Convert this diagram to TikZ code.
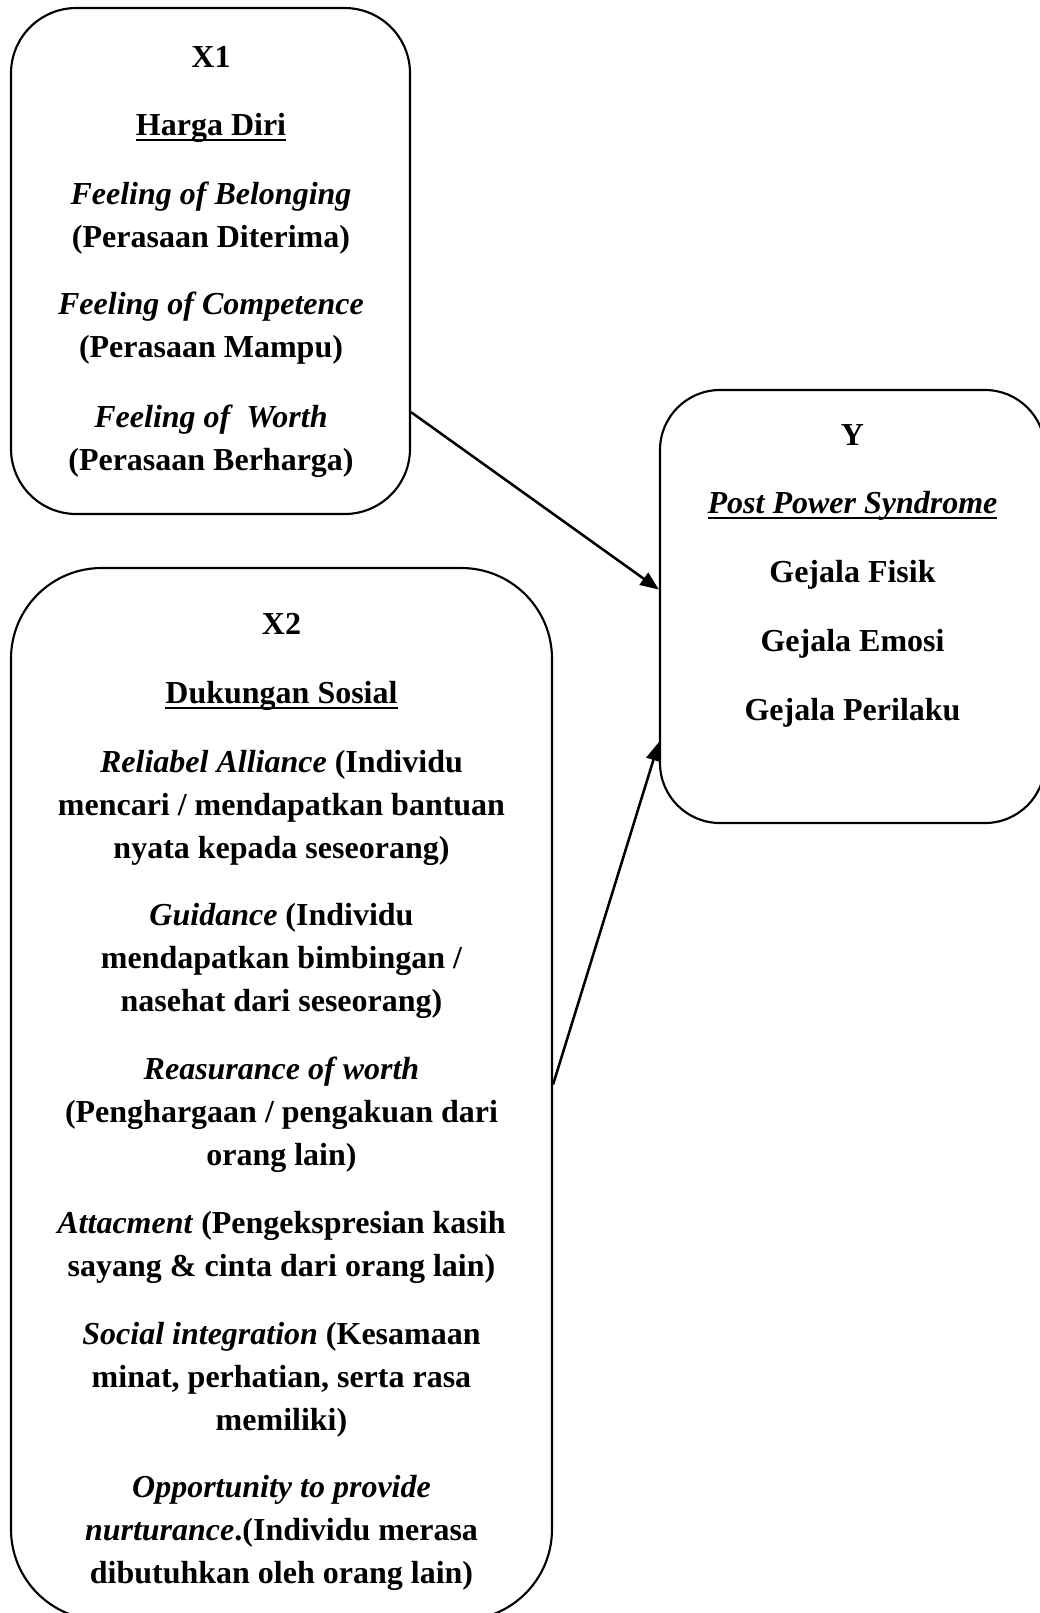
\documentclass[tikz,border=0pt]{standalone}
\usepackage{fontspec}
\setmainfont{Liberation Serif}
\usetikzlibrary{arrows.meta}
\usetikzlibrary{fit}

\newcommand{\ulword}[1]{\setbox0\hbox{#1}\rlap{\rule[-2.4pt]{\wd0}{0.8pt}}\box0}

\begin{document}
\begin{tikzpicture}[x=0.375pt, y=-0.375pt,
    varbox/.style={draw, line width=0.8pt, inner sep=0pt},
    txt/.style={align=center, anchor=base, inner sep=0pt,
      font=\fontsize{12}{16.125}\selectfont\bfseries},
    link/.style={line width=0.95pt, -{Triangle[length=7pt,width=5.5pt]}}]
  \useasboundingbox (0,0) rectangle (1040,1613);
  \clip (0,0) rectangle (1040,1613);

  % the three variables
  \node[varbox, rounded corners=24.5pt, fit={(11,8) (410,514)}] (x1box) {};
  \node[varbox, rounded corners=34pt, fit={(11,568) (552,1620)}] (x2box) {};
  \node[varbox, rounded corners=22.5pt, fit={(660,390) (1045,823)}] (ybox) {};

  % X1 (base = last line)
  \node[txt] (x1title) at (211,67) {X1};
  \node[txt] (x1name) at (211,135) {\ulword{Harga Diri}};
  \node[txt] (x1a) at (211,247) {\textit{Feeling of Belonging}\\(Perasaan Diterima)};
  \node[txt] (x1b) at (211,357) {\textit{Feeling of Competence}\\(Perasaan Mampu)};
  \node[txt] (x1c) at (211,470) {\textit{Feeling of\ \ Worth}\\(Perasaan Berharga)};

  % X2
  \node[txt] (x2title) at (281.5,634) {X2};
  \node[txt] (x2name) at (281.5,703) {\ulword{Dukungan Sosial}};
  \node[txt] (x2a) at (281.5,858) {\textit{Reliabel Alliance} (Individu\\mencari / mendapatkan bantuan\\nyata kepada seseorang)};
  \node[txt] (x2b) at (281.5,1011) {\textit{Guidance} (Individu\\mendapatkan bimbingan /\\nasehat dari seseorang)};
  \node[txt] (x2c) at (281.5,1165) {\textit{Reasurance of worth}\\(Penghargaan / pengakuan dari\\orang lain)};
  \node[txt] (x2d) at (281.5,1276) {\textit{Attacment} (Pengekspresian kasih\\sayang \& cinta dari orang lain)};
  \node[txt] (x2e) at (281.5,1430) {\textit{Social integration} (Kesamaan\\minat, perhatian, serta rasa\\memiliki)};
  \begin{scope}
    \clip (0,0) rectangle (1040,1591);
    \node[txt] (x2f) at (281.5,1583) {\textit{Opportunity to provide}\\\textit{nurturance}.(Individu merasa\\dibutuhkan oleh orang lain)};
  \end{scope}

  % Y
  \node[txt] (ytitle) at (852.5,445) {Y};
  \node[txt] (yname) at (852.5,513) {\textit{\ulword{Post Power Syndrome}}};
  \node[txt] (ya) at (852.5,582) {Gejala Fisik};
  \node[txt] (yb) at (852.5,651) {Gejala Emosi};
  \node[txt] (yc) at (852.5,720) {Gejala Perilaku};

  % arrows
  \draw[link] (x1box.-37.2) -- (ybox.175.4);
  \draw[link] (x2box.2.3) -- (ybox.-145.5);
\end{tikzpicture}
\end{document}
